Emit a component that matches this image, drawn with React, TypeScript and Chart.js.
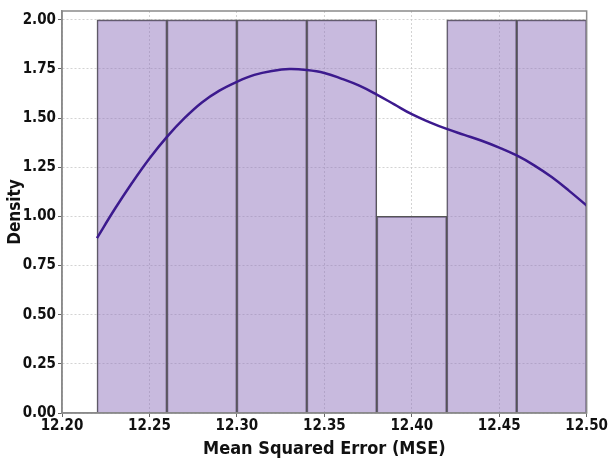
import React, { useEffect, useRef } from "react";
import { Chart, registerables } from "chart.js";

Chart.register(...registerables);

const binCenters = [12.24, 12.28, 12.32, 12.36, 12.4, 12.44, 12.48];
const binDensity = [2, 2, 2, 2, 1, 2, 2];

const kdeX = [
  12.22, 12.23, 12.24, 12.25, 12.26, 12.27, 12.28, 12.29, 12.3, 12.31, 12.32,
  12.33, 12.34, 12.35, 12.36, 12.37, 12.38, 12.39, 12.4, 12.41, 12.42, 12.43,
  12.44, 12.45, 12.46, 12.47, 12.48, 12.49, 12.5,
];
const kdeY = [
  0.89, 1.035, 1.17, 1.295, 1.405, 1.5, 1.58, 1.64, 1.685, 1.72, 1.74, 1.75,
  1.745, 1.73, 1.7, 1.665, 1.62, 1.57, 1.52, 1.48, 1.445, 1.415, 1.385, 1.35,
  1.31, 1.26, 1.2, 1.13, 1.055,
];

const xTicks = [12.2, 12.25, 12.3, 12.35, 12.4, 12.45, 12.5];
const yTicks = [0, 0.25, 0.5, 0.75, 1.0, 1.25, 1.5, 1.75, 2.0];

const FONT = "'DejaVu Sans Condensed', 'DejaVu Sans', sans-serif";

const framePlugin = {
  id: "frame",
  afterDatasetsDraw(chart: any) {
    const { ctx, chartArea } = chart;
    ctx.save();
    ctx.strokeStyle = "#8a8a8a";
    ctx.lineWidth = 1.5;
    ctx.strokeRect(
      chartArea.left,
      chartArea.top,
      chartArea.right - chartArea.left,
      chartArea.bottom - chartArea.top
    );
    ctx.restore();
  },
};

export default function App() {
  const ref = useRef<HTMLCanvasElement | null>(null);
  useEffect(() => {
    document.body.style.margin = "0";
    if (!ref.current) return;
    const chart = new Chart(ref.current, {
      type: "bar",
      data: {
        datasets: [
          {
            type: "line",
            data: kdeX.map((x, i) => ({ x, y: kdeY[i] })),
            borderColor: "#3c1a8e",
            borderWidth: 2.5,
            pointRadius: 0,
            tension: 0.4,
            fill: false,
            order: 0,
          } as any,
          {
            type: "bar",
            data: binCenters.map((x, i) => ({ x, y: binDensity[i] })),
            backgroundColor: "rgba(145,118,190,0.5)",
            borderColor: "#555555",
            borderWidth: 1,
            barPercentage: 1,
            categoryPercentage: 1,
            order: 1,
          } as any,
        ],
      },
      options: {
        animation: false,
        responsive: false,
        maintainAspectRatio: false,
        layout: { padding: { top: 6, right: 21, left: 0, bottom: 0 } },
        plugins: { legend: { display: false }, tooltip: { enabled: false } },
        scales: {
          x: {
            type: "linear",
            min: 12.2,
            max: 12.5,
            offset: false,
            afterBuildTicks: (s: any) => {
              s.ticks = xTicks.map((v) => ({ value: v }));
            },
            afterFit: (s: any) => {
              s.height = 47;
            },
            ticks: {
              color: "#111",
              font: { family: FONT, weight: "bold", size: 15 },
              padding: 0,
              maxRotation: 0,
              autoSkip: false,
              callback: (v: any) => Number(v).toFixed(2),
            },
            grid: {
              offset: false,
              color: "rgba(200,200,200,0.8)",
              lineWidth: 1,
              drawTicks: true,
              tickLength: 4,
              tickColor: "#666",
            },
            border: { display: true, color: "#8a8a8a", width: 1.5, dash: [2, 2] },
            title: {
              display: true,
              text: "Mean Squared Error (MSE)",
              color: "#111",
              font: { family: FONT, weight: "bold", size: 18 },
              padding: { top: 0, bottom: 0 },
            },
          },
          y: {
            type: "linear",
            min: 0,
            max: 2.045,
            afterBuildTicks: (s: any) => {
              s.ticks = yTicks.map((v) => ({ value: v }));
            },
            afterFit: (s: any) => {
              s.width = 62;
            },
            ticks: {
              color: "#111",
              font: { family: FONT, weight: "bold", size: 15 },
              padding: 2,
              callback: (v: any) => Number(v).toFixed(2),
            },
            grid: {
              color: "rgba(200,200,200,0.8)",
              lineWidth: 1,
              drawTicks: true,
              tickLength: 4,
              tickColor: "#666",
            },
            border: { display: true, color: "#8a8a8a", width: 1.5, dash: [2, 2] },
            title: {
              display: true,
              text: "Density",
              color: "#111",
              font: { family: FONT, weight: "bold", size: 17 },
              padding: { top: 5, bottom: 0 },
            },
          },
        },
      },
      plugins: [framePlugin],
    });
    return () => chart.destroy();
  }, []);
  return (
    <div style={{ position: "fixed", left: 0, top: 0, width: 608, height: 460, background: "#fff" }}>
      <canvas ref={ref} width={608} height={460} />
    </div>
  );
}
